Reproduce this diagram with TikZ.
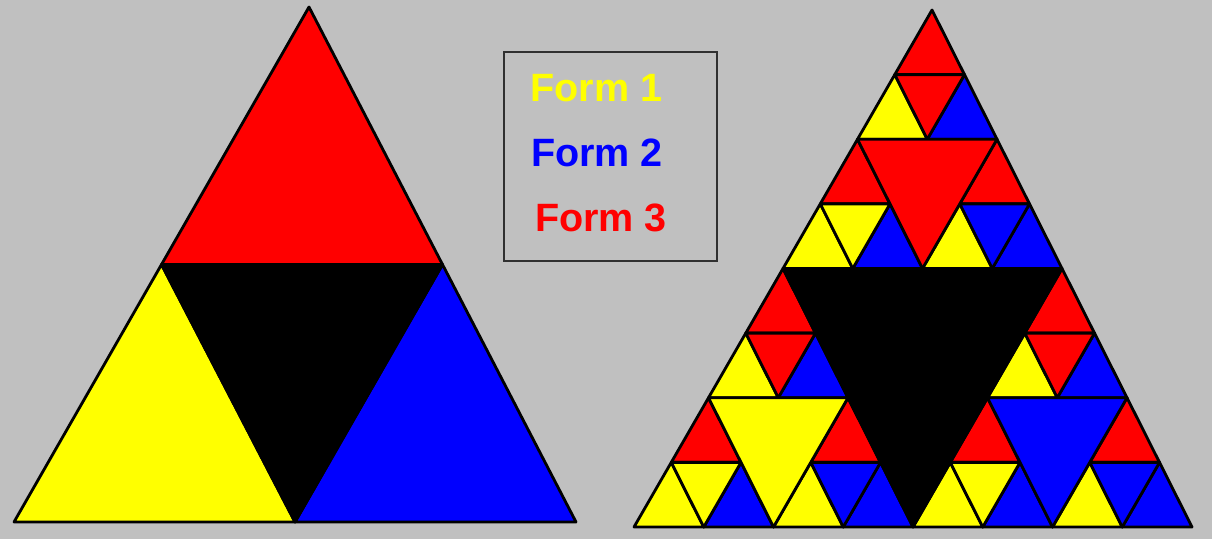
\documentclass[tikz,border=0pt]{standalone}
\usepackage{fontspec}
\setmainfont{Liberation Sans}
\usepackage{tikz}
\usetikzlibrary{positioning,calc}
\definecolor{winGray}{RGB}{192, 192, 192}
\definecolor{boxGray}{RGB}{48, 48, 48}
\definecolor{formYellow}{RGB}{255, 255, 0}
\definecolor{formBlue}{RGB}{0, 0, 255}
\definecolor{formRed}{RGB}{255, 0, 0}

\tikzset{
    piece/.style={draw=black,line width=1.6pt,line join=round},
    formtext/.style={font=\fontsize{22.5}{27}\selectfont\bfseries,inner sep=0pt}
}

% upright triangle: fill, apex x, apex y, left x, right x, base y
\newcommand{\uptri}[6]{%
    \filldraw[piece,fill=#1] ({#2},{#3}) -- ({#4},{#6}) -- ({#5},{#6}) -- cycle;}
% inverted middle part of such a triangle
\newcommand{\midtri}[6]{%
    \filldraw[piece,fill=#1] ({((#2)+(#4))/2},{((#3)+(#6))/2}) -- ({((#2)+(#5))/2},{((#3)+(#6))/2}) -- ({((#4)+(#5))/2},{#6}) -- cycle;}
% split once: top red, left yellow, right blue, middle #1
\newcommand{\formtri}[6]{%
    \uptri{formRed}{#2}{#3}{((#2)+(#4))/2}{((#2)+(#5))/2}{((#3)+(#6))/2}
    \uptri{formYellow}{((#2)+(#4))/2}{((#3)+(#6))/2}{#4}{((#4)+(#5))/2}{#6}
    \uptri{formBlue}{((#2)+(#5))/2}{((#3)+(#6))/2}{((#4)+(#5))/2}{#5}{#6}
    \midtri{#1}{#2}{#3}{#4}{#5}{#6}}
% split twice
\newcommand{\formtritwo}[6]{%
    \formtri{formRed}{#2}{#3}{((#2)+(#4))/2}{((#2)+(#5))/2}{((#3)+(#6))/2}
    \formtri{formYellow}{((#2)+(#4))/2}{((#3)+(#6))/2}{#4}{((#4)+(#5))/2}{#6}
    \formtri{formBlue}{((#2)+(#5))/2}{((#3)+(#6))/2}{((#4)+(#5))/2}{#5}{#6}
    \midtri{#1}{#2}{#3}{#4}{#5}{#6}}
% split three times
\newcommand{\formtrithree}[6]{%
    \formtritwo{formRed}{#2}{#3}{((#2)+(#4))/2}{((#2)+(#5))/2}{((#3)+(#6))/2}
    \formtritwo{formYellow}{((#2)+(#4))/2}{((#3)+(#6))/2}{#4}{((#4)+(#5))/2}{#6}
    \formtritwo{formBlue}{((#2)+(#5))/2}{((#3)+(#6))/2}{((#4)+(#5))/2}{#5}{#6}
    \midtri{#1}{#2}{#3}{#4}{#5}{#6}}

\begin{document}
\begin{tikzpicture}[x=0.02cm,y=-0.02cm]
        % Background
        \fill[winGray] (0,0) rectangle (1212,539);
        \useasboundingbox (0,0) rectangle (1212,539);

        % First step
        \formtri{black}{309}{7}{14}{576}{522}

        % Third step
        \formtrithree{black}{932}{10}{634}{1192}{527}

        % Legend box
        \node[draw=boxGray,line width=0.9pt,minimum width=4.26cm,minimum height=4.18cm,
              inner sep=0pt] (legend) at (610.5,156.5) {};
        \node[formtext,text=formYellow] (form1) at (596.5,88.5) {Form 1};
        \node[formtext,text=formBlue] (form2) at (597,153) {Form 2};
        \node[formtext,text=formRed] (form3) at (601,218) {Form 3};
    \end{tikzpicture}
\end{document}
